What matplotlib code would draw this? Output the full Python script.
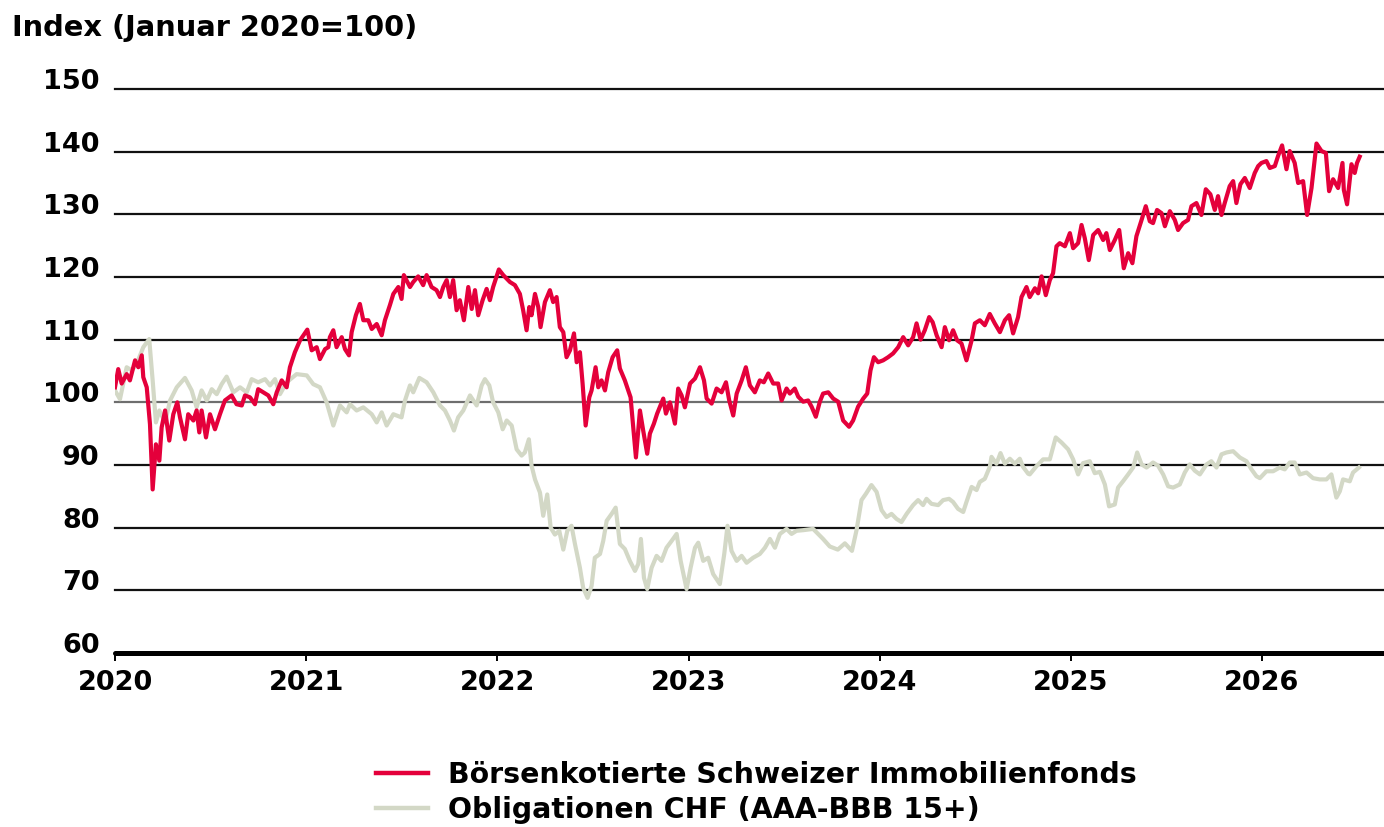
import matplotlib
matplotlib.use("Agg")
import matplotlib.pyplot as plt
from matplotlib.lines import Line2D

plt.rcParams['font.family'] = ['DejaVu Sans']
plt.rcParams['font.weight'] = 'bold'

# Börsenkotierte Schweizer Immobilienfonds (Index, Januar 2020 = 100)
fonds_dates = [
    2020.000, 2020.017, 2020.035, 2020.061, 2020.078, 2020.105, 2020.122, 2020.140, 2020.148, 2020.166,
    2020.183, 2020.197, 2020.214, 2020.232, 2020.244, 2020.262, 2020.284, 2020.305, 2020.326, 2020.340,
    2020.366, 2020.383, 2020.410, 2020.427, 2020.441, 2020.453, 2020.476, 2020.497, 2020.523, 2020.549,
    2020.575, 2020.610, 2020.636, 2020.663, 2020.680, 2020.706, 2020.732, 2020.749, 2020.776, 2020.802,
    2020.828, 2020.846, 2020.872, 2020.898, 2020.915, 2020.941, 2020.968, 2021.006, 2021.029, 2021.055,
    2021.072, 2021.099, 2021.116,
    2021.124, 2021.142, 2021.159, 2021.186, 2021.203, 2021.224, 2021.238, 2021.260, 2021.281, 2021.299,
    2021.325, 2021.343, 2021.369, 2021.395, 2021.412, 2021.438, 2021.456, 2021.482, 2021.499, 2021.511,
    2021.543, 2021.560, 2021.586, 2021.612, 2021.630, 2021.656, 2021.682, 2021.700, 2021.717, 2021.735,
    2021.752, 2021.769, 2021.787, 2021.804, 2021.825, 2021.848, 2021.866, 2021.883, 2021.900, 2021.923,
    2021.944, 2021.961, 2021.978, 2022.008, 2022.031, 2022.066, 2022.092, 2022.118, 2022.135, 2022.153,
    2022.167, 2022.179, 2022.197, 2022.214, 2022.226, 2022.249, 2022.275, 2022.292, 2022.310,
    2022.327, 2022.345, 2022.362, 2022.380, 2022.401, 2022.415, 2022.432, 2022.446, 2022.462, 2022.481,
    2022.493, 2022.514, 2022.528, 2022.545, 2022.563, 2022.580, 2022.603, 2022.627, 2022.641, 2022.667,
    2022.697, 2022.711, 2022.725, 2022.746, 2022.763, 2022.784, 2022.798, 2022.819, 2022.836, 2022.868,
    2022.882, 2022.903, 2022.929, 2022.946, 2022.964, 2022.981, 2023.008, 2023.034, 2023.060, 2023.081,
    2023.095, 2023.121, 2023.147, 2023.173, 2023.196, 2023.213, 2023.234, 2023.252, 2023.278, 2023.300,
    2023.321, 2023.347, 2023.373, 2023.394, 2023.417, 2023.443, 2023.469, 2023.487, 2023.513,
    2023.530, 2023.556, 2023.574, 2023.600, 2023.626, 2023.644, 2023.666, 2023.687, 2023.704, 2023.731,
    2023.757, 2023.783, 2023.809, 2023.840, 2023.861, 2023.887, 2023.914, 2023.935, 2023.952, 2023.970,
    2023.992, 2024.018, 2024.044, 2024.070, 2024.097, 2024.123, 2024.149, 2024.175, 2024.193, 2024.214,
    2024.236, 2024.259, 2024.277, 2024.298, 2024.324, 2024.341, 2024.363, 2024.384, 2024.405, 2024.428,
    2024.454, 2024.481, 2024.498, 2024.524, 2024.550, 2024.576, 2024.602, 2024.629, 2024.655, 2024.677,
    2024.698, 2024.724, 2024.742, 2024.768,
    2024.785, 2024.812, 2024.829, 2024.847, 2024.869, 2024.890, 2024.907, 2024.925, 2024.942, 2024.969,
    2024.995, 2025.012, 2025.038, 2025.056, 2025.073, 2025.094, 2025.117, 2025.143, 2025.169, 2025.186,
    2025.204, 2025.230, 2025.253, 2025.277, 2025.300, 2025.322, 2025.343, 2025.370, 2025.392, 2025.413,
    2025.430, 2025.451, 2025.474, 2025.492, 2025.518, 2025.544, 2025.561, 2025.587, 2025.613, 2025.631,
    2025.657, 2025.683, 2025.706, 2025.730, 2025.753, 2025.770, 2025.788, 2025.805, 2025.831, 2025.849,
    2025.866, 2025.887, 2025.910, 2025.936, 2025.962, 2025.980,
    2025.997, 2026.023, 2026.041, 2026.067, 2026.084, 2026.105, 2026.128, 2026.145, 2026.171, 2026.189,
    2026.215, 2026.236, 2026.259, 2026.285, 2026.311, 2026.334, 2026.351, 2026.372, 2026.398, 2026.421,
    2026.428, 2026.445, 2026.468, 2026.485, 2026.497, 2026.511,
]
fonds_values = [
    102.4, 105.3, 103.0, 104.5, 103.5, 106.7, 105.6, 107.5, 104.0, 102.4,
    96.5, 86.1, 93.3, 90.7, 96.0, 98.7, 93.9, 98.1, 100.0, 97.6,
    94.1, 98.1, 97.1, 98.7, 95.2, 98.7, 94.4, 98.1, 95.7, 98.1,
    100.3, 101.1, 99.7, 99.5, 101.1, 100.8, 99.7, 102.1, 101.6, 101.1,
    99.7, 101.6, 103.5, 102.4, 105.6, 108.0, 109.9, 111.6, 108.3, 108.8,
    106.9, 108.5, 108.8,
    110.4, 111.5, 108.8, 110.4, 108.5, 107.5, 111.2, 113.9, 115.7, 113.1,
    113.1, 111.7, 112.5, 110.7, 113.1, 115.5, 117.3, 118.4, 116.5, 120.3,
    118.4, 119.2, 120.1, 118.7, 120.3, 118.4, 117.9, 116.8, 118.4, 119.5,
    116.8, 119.5, 114.7, 116.3, 113.1, 118.4, 114.9, 117.9, 113.9, 116.3,
    118.1, 116.3, 118.4, 121.2, 120.3, 119.2, 118.7, 117.3, 114.7, 111.5,
    115.2, 113.9, 117.3, 115.2, 112.0, 116.0, 117.9, 116.0, 116.8,
    112.0, 111.2, 107.2, 108.3, 111.0, 106.4, 108.0, 103.0, 96.3, 100.8,
    101.9, 105.6, 102.4, 103.5, 101.9, 104.8, 107.2, 108.3, 105.4, 103.5,
    100.8, 96.0, 91.2, 98.7, 95.5, 91.8, 95.0, 96.6, 98.2, 100.6,
    98.2, 100.0, 96.6, 102.2, 101.1, 99.2, 103.0, 103.8, 105.6, 103.5,
    100.6, 99.8, 102.2, 101.6, 103.2, 100.3, 97.9, 101.4, 103.5, 105.6,
    102.7, 101.6, 103.5, 103.2, 104.6, 103.0, 103.0, 100.3, 102.2,
    101.4, 102.2, 100.9, 100.1, 100.3, 99.3, 97.7, 100.1, 101.4, 101.6,
    100.6, 100.1, 97.1, 96.1, 97.1, 99.3, 100.6, 101.4, 105.1, 107.2,
    106.4, 106.7, 107.2, 107.8, 108.8, 110.4, 109.1, 110.4, 112.6, 110.0,
    111.5, 113.6, 112.8, 110.7, 108.8, 112.0, 109.9, 111.5, 109.9, 109.4,
    106.7, 109.9, 112.6, 113.1, 112.3, 114.1, 112.6, 111.2, 113.1, 113.9,
    111.0, 113.6, 116.8, 118.4,
    116.8, 118.2, 117.4, 120.1, 117.1, 119.5, 120.6, 124.9, 125.4, 124.9,
    127.0, 124.6, 125.4, 128.3, 126.2, 122.7, 126.7, 127.5, 125.9, 127.0,
    124.3, 125.9, 127.5, 121.4, 123.8, 122.2, 126.5, 129.1, 131.3, 128.9,
    128.6, 130.7, 130.2, 128.1, 130.5, 129.1, 127.5, 128.6, 129.1, 131.3,
    131.8, 129.9, 134.0, 133.2, 130.7, 132.9, 129.9, 131.8, 134.5, 135.3,
    131.8, 134.8, 135.8, 134.2, 136.6, 137.7,
    138.2, 138.5, 137.4, 137.7, 139.3, 141.0, 137.2, 140.1, 138.2, 135.0,
    135.3, 129.9, 134.2, 141.3, 140.1, 139.8, 133.7, 135.6, 134.2, 138.2,
    133.9, 131.6, 138.0, 136.6, 138.2, 139.2,
]

# Obligationen CHF (AAA-BBB 15+)
bond_dates = [
    2020.000, 2020.026, 2020.061, 2020.087, 2020.113, 2020.148, 2020.179, 2020.197, 2020.214, 2020.232,
    2020.262, 2020.288, 2020.323, 2020.366, 2020.401, 2020.427, 2020.453, 2020.480, 2020.506, 2020.532,
    2020.558, 2020.584, 2020.619, 2020.654, 2020.689, 2020.715, 2020.749, 2020.785, 2020.811, 2020.837,
    2020.863, 2020.898, 2020.950, 2021.003, 2021.037, 2021.072, 2021.107, 2021.142, 2021.177, 2021.212,
    2021.229, 2021.264, 2021.299, 2021.343, 2021.369, 2021.395, 2021.421, 2021.456, 2021.499, 2021.517,
    2021.543, 2021.560, 2021.592, 2021.630, 2021.665, 2021.700, 2021.726, 2021.752, 2021.773, 2021.795,
    2021.822, 2021.857, 2021.892, 2021.918, 2021.935, 2021.958, 2021.978, 2022.005, 2022.028, 2022.049,
    2022.075, 2022.101, 2022.127, 2022.144, 2022.165, 2022.179, 2022.197, 2022.223, 2022.240, 2022.261,
    2022.279, 2022.301, 2022.324, 2022.345, 2022.366, 2022.388, 2022.406, 2022.432, 2022.449, 2022.472,
    2022.493, 2022.510, 2022.537, 2022.554, 2022.572, 2022.598, 2022.619, 2022.641, 2022.667, 2022.693,
    2022.720, 2022.737, 2022.751, 2022.767, 2022.784, 2022.807, 2022.833, 2022.859, 2022.885, 2022.912,
    2022.938, 2022.959, 2022.990, 2023.011, 2023.034, 2023.051, 2023.077, 2023.103, 2023.129, 2023.164,
    2023.187, 2023.204, 2023.225, 2023.252, 2023.278, 2023.304, 2023.338, 2023.373, 2023.400, 2023.426,
    2023.452, 2023.478, 2023.513, 2023.539, 2023.565, 2023.600, 2023.652, 2023.704, 2023.739, 2023.781,
    2023.818, 2023.855, 2023.879, 2023.905, 2023.928, 2023.957, 2023.984, 2024.010, 2024.036, 2024.062,
    2024.088, 2024.114, 2024.141, 2024.175, 2024.201, 2024.227, 2024.245, 2024.271, 2024.306, 2024.332,
    2024.363, 2024.384, 2024.410, 2024.437, 2024.454, 2024.481, 2024.507, 2024.524, 2024.550, 2024.576,
    2024.585, 2024.611, 2024.632, 2024.655, 2024.681, 2024.707, 2024.733, 2024.750, 2024.777, 2024.785,
    2024.820, 2024.855, 2024.890, 2024.921, 2024.951, 2024.986, 2025.012, 2025.038, 2025.064, 2025.099,
    2025.125, 2025.152, 2025.178, 2025.200, 2025.230, 2025.247, 2025.273, 2025.300, 2025.326, 2025.347,
    2025.370, 2025.396, 2025.430, 2025.456, 2025.483, 2025.509, 2025.535, 2025.570, 2025.596, 2025.622,
    2025.648, 2025.675, 2025.710, 2025.735, 2025.762, 2025.788, 2025.814, 2025.849, 2025.884, 2025.919,
    2025.945, 2025.971, 2025.989, 2026.023, 2026.058, 2026.093, 2026.119, 2026.145, 2026.171, 2026.198,
    2026.233, 2026.267, 2026.302, 2026.337, 2026.363, 2026.389, 2026.407, 2026.424, 2026.459, 2026.476,
    2026.507,
]
bond_values = [
    101.9, 100.5, 105.6, 105.1, 106.1, 108.8, 110.1, 103.5, 96.8, 98.7,
    96.8, 100.3, 102.4, 103.9, 101.9, 99.2, 101.9, 100.3, 102.1, 101.3,
    102.9, 104.1, 101.6, 102.4, 101.6, 103.7, 103.2, 103.7, 102.7, 103.7,
    101.3, 103.2, 104.5, 104.3, 102.9, 102.4, 100.0, 96.3, 99.5, 98.4,
    99.7, 98.7, 99.2, 98.1, 96.8, 98.4, 96.3, 98.1, 97.6, 100.3,
    102.7, 101.6, 103.9, 103.2, 101.6, 99.5, 98.7, 97.1, 95.5, 97.6,
    98.7, 101.1, 99.5, 102.7, 103.7, 102.7, 100.0, 98.4, 95.7, 97.1,
    96.3, 92.5, 91.5, 92.0, 94.1, 89.9, 87.7, 85.6, 81.9, 85.3,
    80.0, 78.9, 79.5, 76.5, 79.5, 80.3, 77.4, 73.6, 70.4, 68.8,
    70.7, 75.2, 75.8, 77.9, 81.1, 82.2, 83.2, 77.4, 76.6, 74.7,
    73.1, 74.2, 78.2, 72.0, 70.2, 73.6, 75.5, 74.7, 76.8, 77.9,
    79.0, 74.7, 70.2, 73.6, 76.8, 77.6, 74.7, 75.2, 72.6, 71.0,
    75.8, 80.3, 76.3, 74.7, 75.5, 74.4, 75.2, 75.8, 76.8, 78.2,
    76.8, 79.0, 79.8, 79.0, 79.5, 79.6, 79.8, 78.2, 77.0, 76.5,
    77.5, 76.3, 79.6, 84.4, 85.4, 86.8, 85.7, 82.8, 81.7, 82.2,
    81.4, 80.9, 82.2, 83.6, 84.4, 83.6, 84.6, 83.8, 83.6, 84.4,
    84.6, 84.1, 83.0, 82.5, 84.1, 86.5, 86.0, 87.3, 87.8, 89.7,
    91.3, 90.2, 91.9, 90.2, 91.0, 90.2, 91.0, 89.7, 88.6, 88.5,
    89.8, 90.9, 90.9, 94.4, 93.6, 92.5, 90.9, 88.5, 90.3, 90.6,
    88.7, 88.9, 86.9, 83.4, 83.7, 86.4, 87.4, 88.5, 89.6, 92.0,
    90.1, 89.6, 90.4, 89.9, 88.5, 86.6, 86.4, 86.9, 88.8, 90.1,
    89.1, 88.5, 90.1, 90.6, 89.6, 91.7, 92.0, 92.2, 91.2, 90.6,
    89.3, 88.2, 87.9, 89.0, 89.0, 89.6, 89.3, 90.4, 90.4, 88.5,
    88.8, 87.9, 87.7, 87.7, 88.5, 84.8, 85.8, 87.7, 87.4, 88.8,
    89.6,
]

year_ticks = [2020, 2021, 2022, 2023, 2024, 2025, 2026]
value_ticks = [60, 70, 80, 90, 100, 110, 120, 130, 140, 150]

series_labels = ["Börsenkotierte Schweizer Immobilienfonds", "Obligationen CHF (AAA-BBB 15+)"]
fonds_color = "#e4003b"
bond_color = "#d3d8c6"

W, H = 1384, 827
fig = plt.figure(figsize=(W / 100, H / 100), dpi=100)
ax = fig.add_axes([115 / W, 1 - 653 / H, 1 - 115 / W, (653 - 89) / H])

# horizontal rules; the 100 line is grey
for v in value_ticks[1:]:
    ax.axhline(v, color="#6e6e6e" if v == 100 else "#111111", lw=1.6, zorder=1, clip_on=False)

ax.plot(bond_dates, bond_values, color=bond_color, lw=3.0, solid_joinstyle="round", zorder=2)
ax.plot(fonds_dates, fonds_values, color=fonds_color, lw=3.0, solid_joinstyle="round", zorder=3)

ax.set_xlim(2020, 2026 + (W - 1262) / 191.17)
ax.set_ylim(60, 150)
ax.set_xticks(year_ticks)
ax.set_xticklabels([str(y) for y in year_ticks])
ax.set_yticks(value_ticks)
ax.set_yticklabels([str(v) for v in value_ticks])

for side in ["top", "right", "left"]:
    ax.spines[side].set_visible(False)
ax.spines["bottom"].set_linewidth(3.6)
ax.spines["bottom"].set_capstyle("round")
ax.spines["bottom"].set_zorder(4)

ax.tick_params(axis="y", length=0, pad=11, labelsize=19.5)
ax.tick_params(axis="x", direction="out", length=6, width=1.4, pad=6, labelsize=19.5)
for lab in ax.get_yticklabels():
    lab.set_verticalalignment("baseline")
    lab.set_fontweight("bold")
for lab in ax.get_xticklabels():
    lab.set_fontweight("bold")

fig.text(12 / W, 1 - 28 / H, "Index (Januar 2020=100)", fontsize=20.8, fontweight="bold",
         va="center", ha="left")

handles = [Line2D([], [], color=fonds_color, lw=3.2),
           Line2D([], [], color=bond_color, lw=3.2)]
fig.legend(handles, series_labels, loc="upper left", bbox_to_anchor=(376 / W, 1 - 761 / H),
           frameon=False, handlelength=1.85, handletextpad=0.68,
           labelspacing=0.26, borderpad=0, borderaxespad=0,
           prop={"weight": "bold", "size": 20.4})

fig.savefig("out.png", dpi=100)
